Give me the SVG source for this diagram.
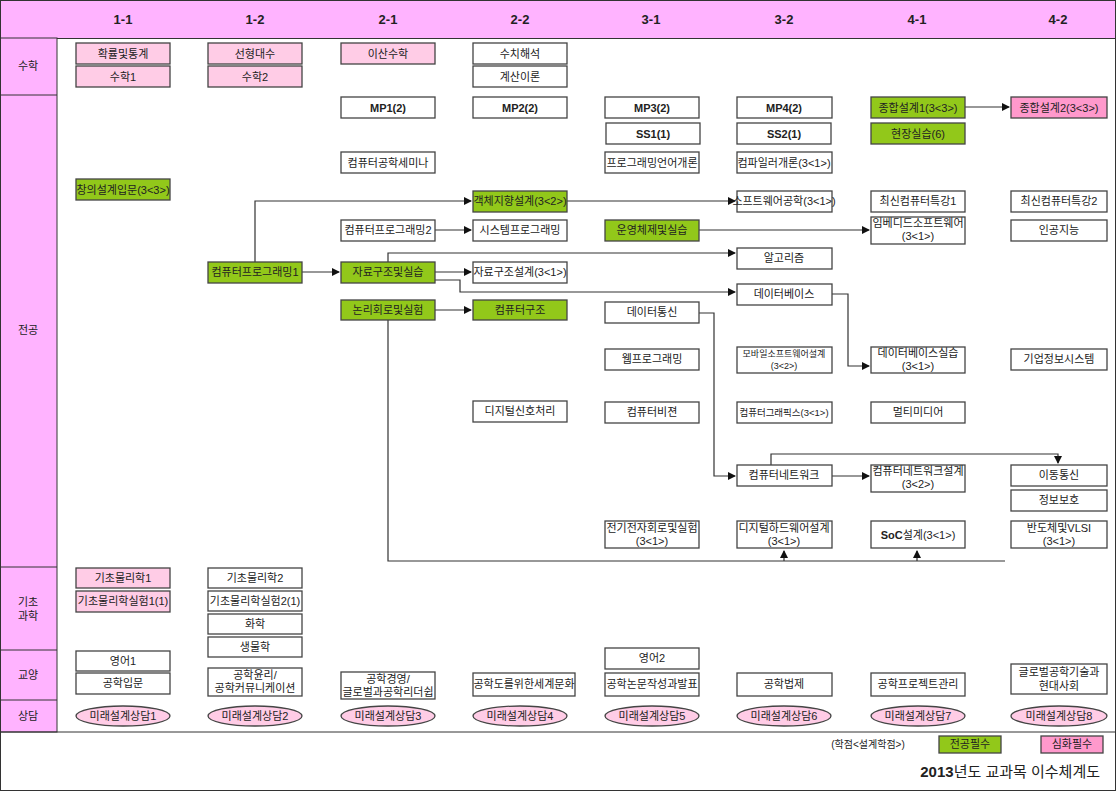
<svg xmlns="http://www.w3.org/2000/svg" width="1116" height="791" viewBox="0 0 1116 791">
<style>
text{font-family:"Liberation Sans","Noto Sans CJK KR",sans-serif;font-size:11px;fill:#222;text-anchor:middle}
.b rect{fill:#fff;stroke:#444;stroke-width:1.3}
.g rect{fill:#92c81a;stroke:#444;stroke-width:1.3}
.p rect{fill:#ffcce6;stroke:#444;stroke-width:1.3}
.pp rect{fill:#ff99cc;stroke:#444;stroke-width:1.3}
.bold{font-weight:bold}
.hd{font-weight:bold;font-size:13px}
.c{fill:none;stroke:#333;stroke-width:1.2}
.e ellipse{fill:#ffcce6;stroke:#444;stroke-width:1.3}
</style>
<defs><marker id="a" markerWidth="8" markerHeight="8" refX="7" refY="4" orient="auto" markerUnits="userSpaceOnUse"><path d="M0,0L8,4L0,8z" fill="#111"/></marker></defs>
<rect x="0.5" y="0.5" width="1115" height="790" fill="#fff" stroke="#333"/>
<g id="frame">
<rect x="0.5" y="0.5" width="1115" height="38" fill="#ffb3ff" stroke="#333"/>
<rect x="0.5" y="38" width="56.5" height="694" fill="#ffb3ff" stroke="#333"/>
<line x1="0" y1="95" x2="57" y2="95" stroke="#333"/>
<line x1="0" y1="567" x2="57" y2="567" stroke="#333"/>
<line x1="0" y1="650" x2="57" y2="650" stroke="#333"/>
<line x1="0" y1="700" x2="57" y2="700" stroke="#333"/>
<line x1="0" y1="732" x2="1116" y2="732" stroke="#333"/>
<text class="hd" x="123" y="24">1-1</text><text class="hd" x="255" y="24">1-2</text><text class="hd" x="388" y="24">2-1</text><text class="hd" x="520" y="24">2-2</text><text class="hd" x="651" y="24">3-1</text><text class="hd" x="784" y="24">3-2</text><text class="hd" x="917" y="24">4-1</text><text class="hd" x="1058" y="24">4-2</text>
<text x="28" y="70">수학</text><text x="28" y="334">전공</text><text x="28" y="606">기초</text><text x="28" y="620">과학</text><text x="28" y="679">교양</text><text x="28" y="720">상담</text>
</g>
<g id="connectors">
<path class="c" d="M302,272H339" marker-end="url(#a)"/>
<path class="c" d="M255,262V201H471" marker-end="url(#a)"/>
<path class="c" d="M435,230H471" marker-end="url(#a)"/>
<path class="c" d="M435,272H471" marker-end="url(#a)"/>
<path class="c" d="M388,262V253H735" marker-end="url(#a)"/>
<path class="c" d="M435,280H460V292H735" marker-end="url(#a)"/>
<path class="c" d="M435,310H471" marker-end="url(#a)"/>
<path class="c" d="M388,320V561H1005"/>
<path class="c" d="M784,561V551" marker-end="url(#a)"/>
<path class="c" d="M917,561V551" marker-end="url(#a)"/>
<path class="c" d="M567,201H735" marker-end="url(#a)"/>
<path class="c" d="M699,230H869" marker-end="url(#a)"/>
<path class="c" d="M832,294H848V366H869" marker-end="url(#a)"/>
<path class="c" d="M699,313H714V476H735" marker-end="url(#a)"/>
<path class="c" d="M832,476H869" marker-end="url(#a)"/>
<path class="c" d="M771,465V454H1058V463" marker-end="url(#a)"/>
<path class="c" d="M965,107H1009" marker-end="url(#a)"/>
</g>
<g id="n1" class="p"><rect x="76" y="43" width="94" height="21"/><text x="123" y="58">확률및통계</text></g>
<g id="n2" class="p"><rect x="76" y="66" width="94" height="21"/><text x="123" y="81">수학1</text></g>
<g id="n3" class="p"><rect x="208" y="43" width="94" height="21"/><text x="255" y="58">선형대수</text></g>
<g id="n4" class="p"><rect x="208" y="66" width="94" height="21"/><text x="255" y="81">수학2</text></g>
<g id="n5" class="p"><rect x="341" y="43" width="94" height="21"/><text x="388" y="58">이산수학</text></g>
<g id="n6" class="b"><rect x="473" y="43" width="94" height="21"/><text x="520" y="58">수치해석</text></g>
<g id="n7" class="b"><rect x="473" y="66" width="94" height="21"/><text x="520" y="81">계산이론</text></g>
<g id="n8" class="b"><rect x="341" y="97" width="94" height="21"/><text class="bold" x="388" y="112">MP1(2)</text></g>
<g id="n9" class="b"><rect x="473" y="97" width="94" height="21"/><text class="bold" x="520" y="112">MP2(2)</text></g>
<g id="n10" class="b"><rect x="605" y="97" width="94" height="21"/><text class="bold" x="652" y="112">MP3(2)</text></g>
<g id="n11" class="b"><rect x="737" y="97" width="95" height="21"/><text class="bold" x="784" y="112">MP4(2)</text></g>
<g id="n12" class="g"><rect x="871" y="97" width="94" height="21"/><text x="918" y="112">종합설계1(3&lt;3&gt;)</text></g>
<g id="n13" class="pp"><rect x="1011" y="97" width="96" height="21"/><text x="1059" y="112">종합설계2(3&lt;3&gt;)</text></g>
<g id="n14" class="b"><rect x="606" y="123" width="94" height="21"/><text class="bold" x="653" y="138">SS1(1)</text></g>
<g id="n15" class="b"><rect x="737" y="123" width="94" height="21"/><text class="bold" x="784" y="138">SS2(1)</text></g>
<g id="n16" class="g"><rect x="871" y="123" width="94" height="21"/><text x="918" y="138">현장실습(6)</text></g>
<g id="n17" class="b"><rect x="341" y="152" width="94" height="21"/><text x="388" y="167">컴퓨터공학세미나</text></g>
<g id="n18" class="b"><rect x="605" y="152" width="94" height="21"/><text x="652" y="167">프로그래밍언어개론</text></g>
<g id="n19" class="b"><rect x="737" y="152" width="95" height="21"/><text x="784" y="167">컴파일러개론(3&lt;1&gt;)</text></g>
<g id="n20" class="g"><rect x="76" y="179" width="94" height="21"/><text x="123" y="194">창의설계입문(3&lt;3&gt;)</text></g>
<g id="n21" class="g"><rect x="473" y="191" width="94" height="21"/><text x="520" y="205">객체지향설계(3&lt;2&gt;)</text></g>
<g id="n22" class="b"><rect x="737" y="191" width="95" height="21"/><text x="784" y="205">소프트웨어공학(3&lt;1&gt;)</text></g>
<g id="n23" class="b"><rect x="871" y="191" width="94" height="21"/><text x="918" y="205">최신컴퓨터특강1</text></g>
<g id="n24" class="b"><rect x="1011" y="191" width="96" height="21"/><text x="1059" y="205">최신컴퓨터특강2</text></g>
<g id="n25" class="b"><rect x="341" y="220" width="94" height="21"/><text x="388" y="234">컴퓨터프로그래밍2</text></g>
<g id="n26" class="b"><rect x="473" y="220" width="94" height="21"/><text x="520" y="234">시스템프로그래밍</text></g>
<g id="n27" class="g"><rect x="605" y="220" width="94" height="21"/><text x="652" y="234">운영체제및실습</text></g>
<g id="n28" class="b"><rect x="871" y="217" width="94" height="27"/><text x="918" y="227">임베디드소프트웨어</text><text x="918" y="240">(3&lt;1&gt;)</text></g>
<g id="n29" class="b"><rect x="1011" y="220" width="96" height="21"/><text x="1059" y="234">인공지능</text></g>
<g id="n30" class="b"><rect x="737" y="248" width="95" height="21"/><text x="784" y="262">알고리즘</text></g>
<g id="n31" class="g"><rect x="208" y="262" width="94" height="21"/><text x="255" y="276">컴퓨터프로그래밍1</text></g>
<g id="n32" class="g"><rect x="341" y="262" width="94" height="21"/><text x="388" y="276">자료구조및실습</text></g>
<g id="n33" class="b"><rect x="473" y="262" width="94" height="21"/><text x="520" y="276">자료구조설계(3&lt;1&gt;)</text></g>
<g id="n34" class="b"><rect x="737" y="284" width="95" height="21"/><text x="784" y="298">데이터베이스</text></g>
<g id="n35" class="g"><rect x="341" y="300" width="94" height="20"/><text x="388" y="314">논리회로및실험</text></g>
<g id="n36" class="g"><rect x="473" y="300" width="94" height="20"/><text x="520" y="314">컴퓨터구조</text></g>
<g id="n37" class="b"><rect x="605" y="302" width="94" height="21"/><text x="652" y="316">데이터통신</text></g>
<g id="n38" class="b"><rect x="605" y="349" width="94" height="21"/><text x="652" y="363">웹프로그래밍</text></g>
<g id="n39" class="b"><rect x="737" y="347" width="95" height="26"/><text x="784" y="357" style="font-size:9px">모바일소프트웨어설계</text><text x="784" y="369" style="font-size:9px">(3&lt;2&gt;)</text></g>
<g id="n40" class="b"><rect x="871" y="347" width="94" height="26"/><text x="918" y="357">데이터베이스실습</text><text x="918" y="370">(3&lt;1&gt;)</text></g>
<g id="n41" class="b"><rect x="1011" y="349" width="96" height="21"/><text x="1059" y="363">기업정보시스템</text></g>
<g id="n42" class="b"><rect x="473" y="401" width="94" height="21"/><text x="520" y="415">디지털신호처리</text></g>
<g id="n43" class="b"><rect x="605" y="402" width="94" height="21"/><text x="652" y="416">컴퓨터비젼</text></g>
<g id="n44" class="b"><rect x="737" y="402" width="95" height="21"/><text x="784" y="416" style="font-size:9.5px">컴퓨터그래픽스(3&lt;1&gt;)</text></g>
<g id="n45" class="b"><rect x="871" y="402" width="94" height="21"/><text x="918" y="416">멀티미디어</text></g>
<g id="n46" class="b"><rect x="737" y="465" width="95" height="21"/><text x="784" y="479">컴퓨터네트워크</text></g>
<g id="n47" class="b"><rect x="871" y="465" width="94" height="27"/><text x="918" y="475">컴퓨터네트워크설계</text><text x="918" y="488">(3&lt;2&gt;)</text></g>
<g id="n48" class="b"><rect x="1011" y="465" width="96" height="21"/><text x="1059" y="479">이동통신</text></g>
<g id="n49" class="b"><rect x="1011" y="490" width="96" height="21"/><text x="1059" y="504">정보보호</text></g>
<g id="n50" class="b"><rect x="605" y="521" width="94" height="27"/><text x="652" y="532">전기전자회로및실험</text><text x="652" y="545">(3&lt;1&gt;)</text></g>
<g id="n51" class="b"><rect x="737" y="521" width="95" height="27"/><text x="784" y="532">디지털하드웨어설계</text><text x="784" y="545">(3&lt;1&gt;)</text></g>
<g id="n52" class="b"><rect x="871" y="521" width="94" height="27"/><text x="918" y="539"><tspan class="bold">SoC</tspan>설계(3&lt;1&gt;)</text></g>
<g id="n53" class="b"><rect x="1011" y="521" width="96" height="27"/><text x="1059" y="532">반도체및VLSI</text><text x="1059" y="545">(3&lt;1&gt;)</text></g>
<g id="n54" class="p"><rect x="76" y="568" width="94" height="20"/><text x="123" y="582">기초물리학1</text></g>
<g id="n55" class="p"><rect x="76" y="591" width="94" height="21"/><text x="123" y="605">기초물리학실험1(1)</text></g>
<g id="n56" class="b"><rect x="208" y="568" width="94" height="20"/><text x="255" y="582">기초물리학2</text></g>
<g id="n57" class="b"><rect x="208" y="591" width="94" height="20"/><text x="255" y="605">기초물리학실험2(1)</text></g>
<g id="n58" class="b"><rect x="208" y="614" width="94" height="20"/><text x="255" y="628">화학</text></g>
<g id="n59" class="b"><rect x="208" y="637" width="94" height="20"/><text x="255" y="651">생물학</text></g>
<g id="n60" class="b"><rect x="76" y="651" width="94" height="20"/><text x="123" y="665">영어1</text></g>
<g id="n61" class="b"><rect x="76" y="673" width="94" height="21"/><text x="123" y="687">공학입문</text></g>
<g id="n62" class="b"><rect x="208" y="668" width="94" height="28"/><text x="255" y="679">공학윤리/</text><text x="255" y="692">공학커뮤니케이션</text></g>
<g id="n63" class="b"><rect x="341" y="672" width="94" height="27"/><text x="388" y="683">공학경영/</text><text x="388" y="696">글로벌과공학리더쉽</text></g>
<g id="n64" class="b"><rect x="473" y="673" width="102" height="23"/><text x="524" y="688">공학도를위한세계문화</text></g>
<g id="n65" class="b"><rect x="605" y="648" width="94" height="21"/><text x="652" y="662">영어2</text></g>
<g id="n66" class="b"><rect x="605" y="673" width="94" height="23"/><text x="652" y="688">공학논문작성과발표</text></g>
<g id="n67" class="b"><rect x="737" y="673" width="95" height="23"/><text x="784" y="688">공학법제</text></g>
<g id="n68" class="b"><rect x="871" y="673" width="94" height="23"/><text x="918" y="688">공학프로젝트관리</text></g>
<g id="n69" class="b"><rect x="1011" y="664" width="96" height="30"/><text x="1059" y="676">글로벌공학기술과</text><text x="1059" y="690">현대사회</text></g>
<g id="c1" class="e"><ellipse cx="123" cy="716" rx="47" ry="10"/><text x="123" y="720">미래설계상담1</text></g>
<g id="c2" class="e"><ellipse cx="255" cy="716" rx="47" ry="10"/><text x="255" y="720">미래설계상담2</text></g>
<g id="c3" class="e"><ellipse cx="388" cy="716" rx="47" ry="10"/><text x="388" y="720">미래설계상담3</text></g>
<g id="c4" class="e"><ellipse cx="520" cy="716" rx="47" ry="10"/><text x="520" y="720">미래설계상담4</text></g>
<g id="c5" class="e"><ellipse cx="652" cy="716" rx="47" ry="10"/><text x="652" y="720">미래설계상담5</text></g>
<g id="c6" class="e"><ellipse cx="784" cy="716" rx="47" ry="10"/><text x="784" y="720">미래설계상담6</text></g>
<g id="c7" class="e"><ellipse cx="918" cy="716" rx="47" ry="10"/><text x="918" y="720">미래설계상담7</text></g>
<g id="c8" class="e"><ellipse cx="1059" cy="716" rx="48" ry="10"/><text x="1059" y="720">미래설계상담8</text></g>
<g id="legend">
<text x="868" y="748" style="font-size:10px">(학점&lt;설계학점&gt;)</text>
<g class="g"><rect x="939" y="736" width="62" height="17"/><text x="970" y="748">전공필수</text></g>
<g class="pp"><rect x="1041" y="736" width="62" height="17"/><text x="1072" y="748">심화필수</text></g>
<text x="1100" y="777" style="font-size:15px;text-anchor:end"><tspan class="bold">2013</tspan>년도 교과목 이수체계도</text>
</g>
</svg>
